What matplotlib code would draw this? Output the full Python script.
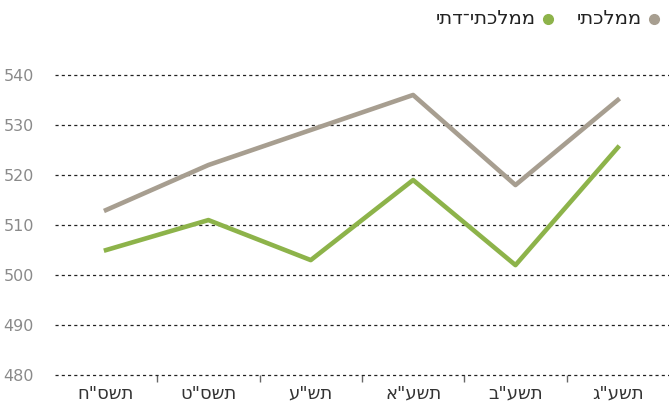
import matplotlib
matplotlib.use("Agg")
import matplotlib.pyplot as plt
from matplotlib.lines import Line2D

# school years (Hebrew), left to right chronologically
years = ['תשס"ח', 'תשס"ט', 'תש"ע', 'תשע"א', 'תשע"ב', 'תשע"ג']
mamlachti = [513, 522, 529, 536, 518, 535]
mamlachti_dati = [505, 511, 503, 519, 502, 525.5]
series_names = ["ממלכתי", "ממלכתי־דתי"]
yticks = [480, 490, 500, 510, 520, 530, 540]

GREY = "#a79e90"
GREEN = "#8db34a"


def rtl(s):
    # no bidi in matplotlib: flip so the Hebrew reads right to left
    return s[::-1]


plt.rcParams['font.family'] = ['DejaVu Sans']

fig = plt.figure(figsize=(6.69, 4.03), dpi=100)
ax = fig.add_axes([0.082, 0.069, 0.918, 0.745])

x = list(range(len(years)))
ax.plot(x, mamlachti, color=GREY, lw=3.3)
ax.plot(x, mamlachti_dati, color=GREEN, lw=3.3)

ax.set_xlim(-0.5, len(years) - 0.5)
ax.set_ylim(480, 540)
ax.set_yticks(yticks)
ax.set_yticklabels([str(v) for v in yticks], fontsize=11.5, color="#8a8a8a")
ax.tick_params(axis='y', length=0, pad=15)

ax.set_xticks(x)
ax.set_xticklabels([rtl(y) for y in years], fontsize=13, color="#333333")
ax.set_xticks([i + 0.5 for i in x[:-1]], minor=True)
ax.tick_params(axis='x', which='major', length=0, pad=7)
ax.tick_params(axis='x', which='minor', length=5, width=1, color="#666666")

ax.grid(axis='y', color="#222222", ls=(0, (2.5, 2.5)), lw=0.9)
for gl in ax.get_ygridlines():
    gl.set_clip_on(False)
ax.set_axisbelow(True)
for sp in ax.spines.values():
    sp.set_visible(False)

# legend, right to left: dot then label
W, H = 669, 403
leg_y = 1 - 19 / H
for name, col, dot_x in [(series_names[0], GREY, 654), (series_names[1], GREEN, 548)]:
    fig.add_artist(Line2D([dot_x / W], [leg_y], transform=fig.transFigure,
                          ls='', marker='o', ms=7, color=col))
    fig.text((dot_x - 12) / W, leg_y, rtl(name), ha='right', va='center',
             fontsize=14, color="#222222")

fig.savefig("out.png", dpi=100)
